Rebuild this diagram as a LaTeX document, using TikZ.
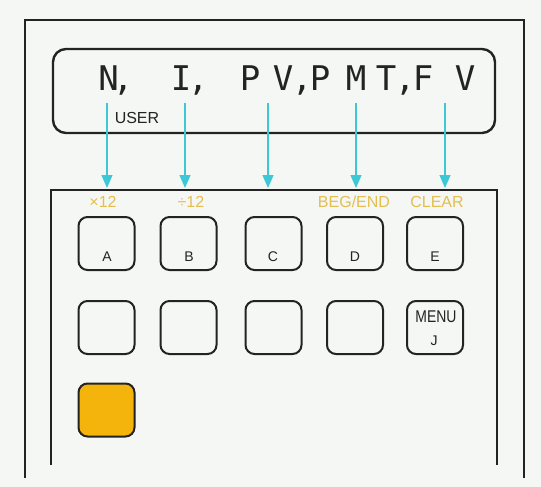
\documentclass[tikz,border=0pt]{standalone}
\usepackage{fontspec}
\setmainfont{Liberation Sans}
\newfontfamily\lcd{DejaVu Sans Mono}
\usetikzlibrary{arrows.meta}
\definecolor{bg}{RGB}{244,247,243}
\definecolor{ink}{RGB}{35,35,35}
\definecolor{cyanarrow}{RGB}{60,200,215}
\definecolor{gold}{RGB}{228,190,80}
\definecolor{orangekey}{RGB}{245,180,12}
\begin{document}
\begin{tikzpicture}[x=1pt,y=-1pt,
  frame/.style={draw=ink,line width=2.4pt,line join=miter},
  keybox/.style={draw=ink,line width=2pt,rounded corners=9pt,minimum width=56pt,minimum height=53pt,inner sep=0pt},
  keylet/.style={font=\fontsize{14}{14}\selectfont,text=ink,inner sep=0pt},
  fnlabel/.style={font=\fontsize{16}{16}\selectfont,text=gold,inner sep=0pt},
  lcdch/.style={font=\lcd\fontsize{34}{34}\selectfont,text=ink,anchor=base,inner sep=0pt},
  ptr/.style={draw=cyanarrow,line width=1.2pt,-{Triangle[width=11pt,length=13pt]}}
]
\fill[bg] (0,0) rectangle (541,487);
\useasboundingbox (0,0) rectangle (541,487);

% frames
\draw[frame] (25,478) -- (25,20) -- (524,20) -- (524,478);
\draw[frame] (51,465) -- (51,190) -- (497,190) -- (497,465);
\node[draw=ink,line width=2.4pt,rounded corners=13pt,minimum width=442pt,minimum height=84pt,inner sep=0pt] (display) at (274,91) {};

% LCD characters
\node[lcdch] (cN) at (108.5,90) {N};
\node[lcdch] (k1) at (123,90) {,};
\node[lcdch] (cI) at (181,90) {I};
\node[lcdch] (k2) at (198,90) {,};
\node[lcdch] (cP1) at (250,90) {P};
\node[lcdch] (cV1) at (283,90) {V};
\node[lcdch] (k3) at (302,90) {,};
\node[lcdch] (cP2) at (320,90) {P};
\node[lcdch] (cM) at (356,90) {M};
\node[lcdch] (cT) at (386,90) {T};
\node[lcdch] (k4) at (405,90) {,};
\node[lcdch] (cF) at (423,90) {F};
\node[lcdch] (cV2) at (465,90) {V};
\node[font=\fontsize{16}{16}\selectfont,text=ink,inner sep=0pt] (user) at (137,118) {USER};

% arrows
\coordinate (s1) at (107,103); \coordinate (e1) at (107,188);
\coordinate (s2) at (185,103); \coordinate (e2) at (185,188);
\coordinate (s3) at (268,103); \coordinate (e3) at (268,188);
\coordinate (s4) at (356,103); \coordinate (e4) at (356,188);
\coordinate (s5) at (445,103); \coordinate (e5) at (445,188);
\draw[ptr] (s1) -- (e1);
\draw[ptr] (s2) -- (e2);
\draw[ptr] (s3) -- (e3);
\draw[ptr] (s4) -- (e4);
\draw[ptr] (s5) -- (e5);

% function labels
\node[fnlabel] (fA) at (103,202) {×12};
\node[fnlabel] (fB) at (191,202) {÷12};
\node[fnlabel] (fD) at (354,202) {BEG/END};
\node[fnlabel] (fE) at (437,202) {CLEAR};

% keys row 1
\node[keybox] (kA) at (106.5,243.5) {};
\node[keybox] (kB) at (188.5,243.5) {};
\node[keybox] (kC) at (273.5,243.5) {};
\node[keybox] (kD) at (355,243.5) {};
\node[keybox] (kE) at (435,243.5) {};
\node[keylet] (lA) at (107,257) {A};
\node[keylet] (lB) at (189,257) {B};
\node[keylet] (lC) at (273,257) {C};
\node[keylet] (lD) at (355,257) {D};
\node[keylet] (lE) at (435,257) {E};

% keys row 2
\node[keybox] (kF) at (106.5,327.5) {};
\node[keybox] (kG) at (188.5,327.5) {};
\node[keybox] (kH) at (273.5,327.5) {};
\node[keybox] (kI) at (355,327.5) {};
\node[keybox] (kJ) at (435,327.5) {};
\node[font=\fontsize{17}{17}\selectfont,text=ink,inner sep=0pt,xscale=0.82] (menu) at (436,317) {MENU};
\node[keylet] (lJ) at (434,341) {J};

% row 3
\node[keybox,fill=orangekey] (kS) at (106.5,410) {};
\end{tikzpicture}
\end{document}
